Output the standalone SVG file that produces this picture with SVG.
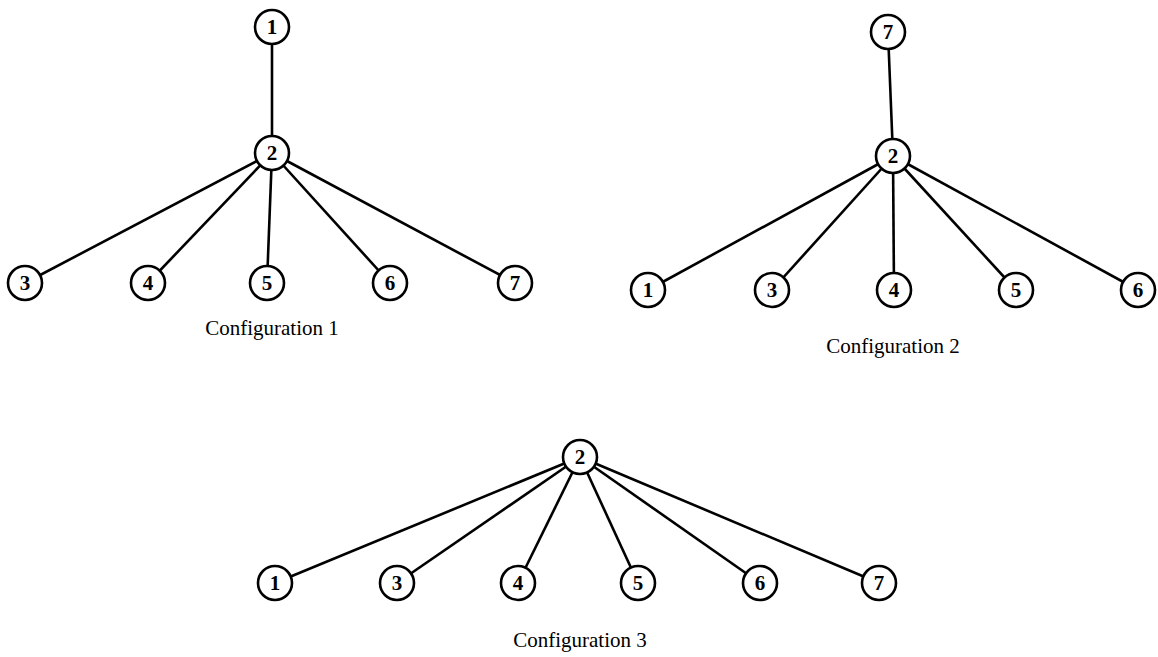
<svg xmlns="http://www.w3.org/2000/svg" width="1158" height="657" viewBox="0 0 1158 657">
<style>
.e{stroke:#000;stroke-width:2.6;fill:none}
.n circle{fill:#fff;stroke:#000;stroke-width:2.6}
.n text{font-family:"Liberation Serif",serif;font-weight:bold;font-size:21px;text-anchor:middle;dominant-baseline:central}
.lbl{font-family:"Liberation Serif",serif;font-size:21px;text-anchor:middle}
</style>
<rect width="1158" height="657" fill="#fff"/>
<g id="connectors">
<line class="e" x1="272" y1="27" x2="272" y2="153"/>
<line class="e" x1="272" y1="153" x2="25" y2="283"/>
<line class="e" x1="272" y1="153" x2="148" y2="283"/>
<line class="e" x1="272" y1="153" x2="267" y2="283"/>
<line class="e" x1="272" y1="153" x2="390" y2="283"/>
<line class="e" x1="272" y1="153" x2="515" y2="283"/>
<line class="e" x1="888" y1="32" x2="893" y2="156"/>
<line class="e" x1="893" y1="156" x2="648" y2="290"/>
<line class="e" x1="893" y1="156" x2="772" y2="290"/>
<line class="e" x1="893" y1="156" x2="894" y2="290"/>
<line class="e" x1="893" y1="156" x2="1016" y2="290"/>
<line class="e" x1="893" y1="156" x2="1138" y2="290"/>
<line class="e" x1="580" y1="457" x2="275" y2="583"/>
<line class="e" x1="580" y1="457" x2="397" y2="583"/>
<line class="e" x1="580" y1="457" x2="518" y2="583"/>
<line class="e" x1="580" y1="457" x2="638" y2="583"/>
<line class="e" x1="580" y1="457" x2="760" y2="583"/>
<line class="e" x1="580" y1="457" x2="879" y2="583"/>
</g>
<g id="c1n1" class="n"><circle cx="272" cy="27" r="17"/><text x="272" y="27">1</text></g>
<g id="c1n2" class="n"><circle cx="272" cy="153" r="17"/><text x="272" y="153">2</text></g>
<g id="c1n3" class="n"><circle cx="25" cy="283" r="17"/><text x="25" y="283">3</text></g>
<g id="c1n4" class="n"><circle cx="148" cy="283" r="17"/><text x="148" y="283">4</text></g>
<g id="c1n5" class="n"><circle cx="267" cy="283" r="17"/><text x="267" y="283">5</text></g>
<g id="c1n6" class="n"><circle cx="390" cy="283" r="17"/><text x="390" y="283">6</text></g>
<g id="c1n7" class="n"><circle cx="515" cy="283" r="17"/><text x="515" y="283">7</text></g>
<text class="lbl" x="272" y="335">Configuration 1</text>
<g id="c2n7" class="n"><circle cx="888" cy="32" r="17"/><text x="888" y="32">7</text></g>
<g id="c2n2" class="n"><circle cx="893" cy="156" r="17"/><text x="893" y="156">2</text></g>
<g id="c2n1" class="n"><circle cx="648" cy="290" r="17"/><text x="648" y="290">1</text></g>
<g id="c2n3" class="n"><circle cx="772" cy="290" r="17"/><text x="772" y="290">3</text></g>
<g id="c2n4" class="n"><circle cx="894" cy="290" r="17"/><text x="894" y="290">4</text></g>
<g id="c2n5" class="n"><circle cx="1016" cy="290" r="17"/><text x="1016" y="290">5</text></g>
<g id="c2n6" class="n"><circle cx="1138" cy="290" r="17"/><text x="1138" y="290">6</text></g>
<text class="lbl" x="893" y="353">Configuration 2</text>
<g id="c3n2" class="n"><circle cx="580" cy="457" r="17"/><text x="580" y="457">2</text></g>
<g id="c3n1" class="n"><circle cx="275" cy="583" r="17"/><text x="275" y="583">1</text></g>
<g id="c3n3" class="n"><circle cx="397" cy="583" r="17"/><text x="397" y="583">3</text></g>
<g id="c3n4" class="n"><circle cx="518" cy="583" r="17"/><text x="518" y="583">4</text></g>
<g id="c3n5" class="n"><circle cx="638" cy="583" r="17"/><text x="638" y="583">5</text></g>
<g id="c3n6" class="n"><circle cx="760" cy="583" r="17"/><text x="760" y="583">6</text></g>
<g id="c3n7" class="n"><circle cx="879" cy="583" r="17"/><text x="879" y="583">7</text></g>
<text class="lbl" x="580" y="647">Configuration 3</text>
</svg>
